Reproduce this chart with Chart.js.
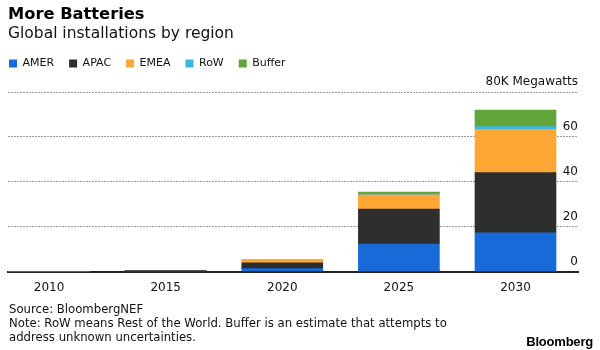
<!DOCTYPE html>
<html>
<head>
<meta charset="utf-8">
<script src="https://cdn.jsdelivr.net/npm/chart.js@4/dist/chart.umd.min.js"></script>
<style>
    html, body { margin: 0; padding: 0; background: #fff; }
    #wrap { position: relative; width: 600px; height: 350px; }
    #notes {
        position: absolute; left: 9px; top: 302px;
        font: 11.7px "DejaVu Sans", sans-serif; line-height: 14px; color: #111;
    }
    #brand {
        position: absolute; right: 7px; top: 334px;
        font: bold 13px "Liberation Sans", Arial, sans-serif; color: #000; letter-spacing: -0.2px;
    }
</style>
</head>
<body>
<div id="wrap">
    <canvas id="batteryChart" width="600" height="350"></canvas>
    <div id="notes">
        Source: BloombergNEF<br>
        Note: RoW means Rest of the World. Buffer is an estimate that attempts to<br>
        address unknown uncertainties.
    </div>
    <div id="brand">Bloomberg</div>
</div>
<script>
// values, thousand megawatts
const years = [2010, 2015, 2020, 2025, 2030];
const amer = [0, 0.15, 1.3, 12.3, 17.3];
const apac = [0, 0.3, 2.6, 15.6, 26.8];
const emea = [0, 0.1, 1.2, 6.3, 19.3];
const rowWorld = [0, 0, 0.05, 0.3, 1.2];
const buffer = [0, 0, 0.1, 0.9, 7.4];
const yTicks = [0, 20, 40, 60, 80];

const font = "'DejaVu Sans', sans-serif";

// header boxes sit at the top of the canvas, legend flush with the title
const nudgeHeader = {
    id: 'nudgeHeader',
    afterLayout: function (chart) {
        chart.boxes.forEach(function (box) {
            if (box.position === 'top') {
                box.top -= 13;
                box.bottom -= 13;
            }
        });
        chart.legend.left -= 14;
    }
};

function series(label, data, color) {
    return {
        label: label,
        data: data,
        backgroundColor: color,
        borderWidth: 0,
        barThickness: 81
    };
}

new Chart(document.getElementById('batteryChart'), {
    type: 'bar',
    data: {
        labels: years,
        datasets: [
            series('AMER', amer, '#176ad8'),
            series('APAC', apac, '#2e2e2e'),
            series('EMEA', emea, '#fea735'),
            series('RoW', rowWorld, '#3cb5df'),
            series('Buffer', buffer, '#62a539')
        ]
    },
    options: {
        responsive: false,
        animation: false,
        layout: { padding: { left: 8, right: 22, top: 0, bottom: 46 } },
        plugins: {
            title: {
                display: true,
                text: 'More Batteries',
                align: 'start',
                color: '#000',
                font: { family: font, size: 16.3, weight: 'bold' },
                padding: { top: 4, bottom: 0 }
            },
            subtitle: {
                display: true,
                text: 'Global installations by region',
                align: 'start',
                color: '#111',
                font: { family: font, size: 15.5 },
                padding: { top: 0, bottom: 0 }
            },
            legend: {
                display: true,
                align: 'start',
                labels: {
                    boxWidth: 8,
                    boxHeight: 8,
                    padding: 15,
                    color: '#111',
                    font: { family: font, size: 11 }
                }
            },
            tooltip: { enabled: false }
        },
        scales: {
            x: {
                type: 'linear',
                stacked: true,
                offset: false,
                min: 2008.24,
                max: 2032.68,
                afterBuildTicks: function (axis) {
                    axis.ticks = years.map(function (y) { return { value: y }; });
                },
                grid: { display: false, drawTicks: false },
                border: { display: true, color: '#222', width: 2 },
                ticks: {
                    padding: 9,
                    color: '#111',
                    font: { family: font, size: 12 },
                    callback: function (v) { return String(v); }
                }
            },
            y: {
                position: 'right',
                stacked: true,
                min: 0,
                max: 80,
                afterBuildTicks: function (axis) {
                    axis.ticks = yTicks.map(function (v) { return { value: v }; });
                },
                afterFit: function (axis) {
                    axis.paddingTop = 92;
                },
                grid: {
                    drawTicks: false,
                    color: function (ctx) {
                        return ctx.tick && ctx.tick.value === 0 ? 'rgba(0,0,0,0)' : '#9a9a9a';
                    },
                    lineWidth: 1
                },
                border: { display: false, dash: [2, 1] },
                ticks: {
                    mirror: true,
                    padding: 0,
                    labelOffset: -10,
                    color: '#111',
                    font: { family: font, size: 12 },
                    callback: function (v) { return v === 80 ? '80K Megawatts' : v; }
                }
            }
        }
    },
    plugins: [nudgeHeader]
});
</script>
</body>
</html>
